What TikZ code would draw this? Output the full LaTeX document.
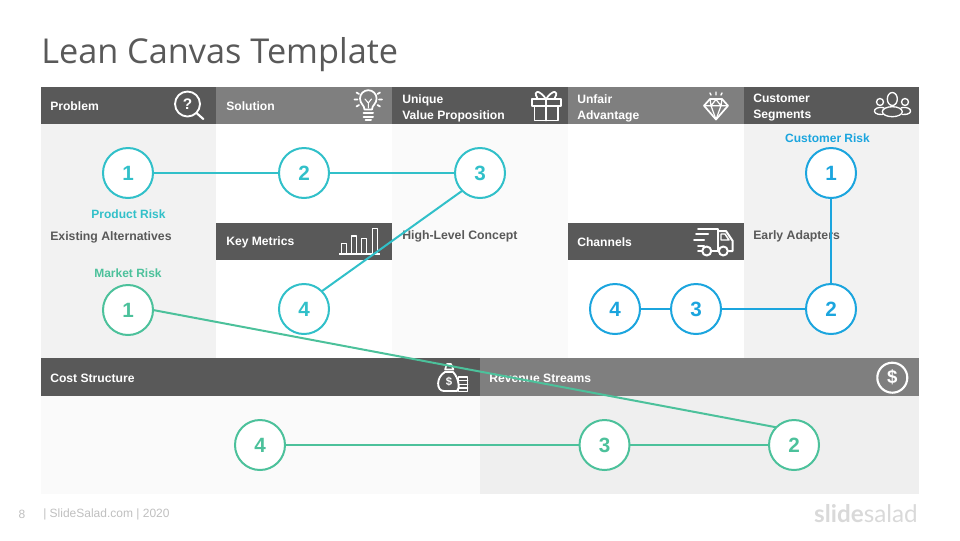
\documentclass[tikz,border=0pt]{standalone}
\usepackage{fontspec}
\setmainfont{Liberation Sans}
\newfontfamily\titlefont{Open Sans}
\newfontfamily\logofont{Lato}
\definecolor{darkhd}{HTML}{595959}
\definecolor{grayhd}{HTML}{7F7F7F}
\definecolor{panelA}{HTML}{F2F2F2}
\definecolor{panelB}{HTML}{FAFAFA}
\definecolor{panelC}{HTML}{EFEFEF}
\definecolor{teal}{HTML}{31C0C9}
\definecolor{bluec}{HTML}{1BA5DE}
\definecolor{greenc}{HTML}{4CC19B}
\definecolor{foot}{HTML}{BFBFBF}
\definecolor{logoc}{HTML}{D9D9D9}
\tikzset{
  panel/.style={fill=#1,draw=none},
  hd/.style={anchor=west,text=white,font=\fontsize{9.1}{12}\selectfont\bfseries,align=left,inner sep=0pt},
  bodytxt/.style={anchor=west,text=darkhd,font=\fontsize{9.2}{12}\selectfont\bfseries,inner sep=0pt},
  risk/.style={text=#1,font=\fontsize{9}{12}\selectfont\bfseries,inner sep=0pt},
  numc/.style={circle,draw=#1,fill=white,line width=1.5pt,minimum size=37.5pt,inner sep=0pt,outer sep=0pt,text=#1,font=\fontsize{15.5}{16}\selectfont\bfseries},
  conn/.style={draw=#1,line width=1.5pt},
  icon/.style={draw=white,line width=1.1pt,line cap=round,line join=round}
}
\begin{document}
\begin{tikzpicture}[x=0.75pt,y=-0.75pt]
\useasboundingbox (0,0) rectangle (960,540);
% panels
\fill[panel=panelA] (41,124) rectangle (216,358);
\fill[panel=panelB] (392,124) rectangle (568,358);
\fill[panel=panelA] (744,124) rectangle (919,358);
\fill[panel=panelB] (41,396) rectangle (480,494);
\fill[panel=panelC] (480,396) rectangle (919,494);
% header bars
\fill[darkhd] (41,87) rectangle (216,124);
\fill[grayhd] (216,87) rectangle (392,124);
\fill[darkhd] (392,87) rectangle (568,124);
\fill[grayhd] (568,87) rectangle (744,124);
\fill[darkhd] (744,87) rectangle (919,124);
\fill[darkhd] (216,223) rectangle (392,260);
\fill[darkhd] (568,223) rectangle (744,260);
\fill[darkhd] (41,358) rectangle (480,396);
\fill[grayhd] (480,358) rectangle (919,396);
% title and footer
\node[anchor=west,inner sep=0pt,text=darkhd,font=\titlefont\fontsize{25.7}{30}\selectfont] (title) at (41,55) {Lean Canvas Template};
\node[text=foot,inner sep=0pt,font=\fontsize{9}{10}\selectfont] (pagenum) at (22,514) {8};
\node[anchor=west,text=foot,inner sep=0pt,font=\fontsize{9}{10}\selectfont] (foottxt) at (43,514.5) {| SlideSalad.com | 2020};
\node[anchor=east,text=logoc,inner sep=0pt,font=\logofont\fontsize{18.2}{20}\selectfont] (logo) at (918,514) {\textbf{slide}salad};
% header texts
\node[hd] (hProblem) at (50,106.5) {Problem};
\node[hd] (hSolution) at (226,106.5) {Solution};
\node[hd] (hUnique) at (402,108) {Unique\\Value Proposition};
\node[hd] (hUnfair) at (577,108) {Unfair\\Advantage};
\node[hd] (hCustomer) at (753,108) {Customer\\Segments};
\node[hd] (hMetrics) at (226,242) {Key Metrics};
\node[hd] (hChannels) at (577,242) {Channels};
\node[hd] (hCost) at (50,378) {Cost Structure};
\node[hd] (hRevenue) at (489,378) {Revenue Streams};
% body texts
\node[bodytxt] (tExisting) at (50,237.5) {Existing Alternatives};
\node[bodytxt] (tHigh) at (402,236.5) {High-Level Concept};
\node[bodytxt] (tEarly) at (753,236.5) {Early Adapters};
\node[risk=teal] (rProduct) at (128.5,214) {Product Risk};
\node[risk=greenc] (rMarket) at (128,273) {Market Risk};
\node[risk=bluec] (rCustomer) at (827.5,138) {Customer Risk};
% icons
\draw[icon,line width=1.4pt] (187.5,104) circle (12.5);
\draw[icon,line width=1.6pt] (196.5,113) -- (203.3,119);
\node[text=white,inner sep=0pt,font=\fontsize{11.5}{12}\selectfont\bfseries] (iQ) at (187.5,104) {?};
% bulb
\draw[icon,line width=1.3pt] (364.5,109.5) .. controls (364.5,105) and (360,104) .. (360,98.5) arc[start angle=180,end angle=360,radius=8.3] .. controls (376.6,104) and (372,105) .. (372,109.5) -- cycle;
\draw[icon,line width=0.8pt] (365,99) -- (368.3,103) -- (371.5,99) (368.3,103) -- (368.3,108);
\draw[icon,line width=1.5pt] (363.5,113) -- (373,113) (363.5,116.5) -- (373,116.5) (365.5,120) -- (371,120);
\draw[icon,line width=1.3pt] (354.5,99.5) -- (357.5,99.5) (379,99.5) -- (382,99.5) (356.5,92.5) -- (359,94) (380,92.5) -- (377.5,94) (356.5,106.5) -- (359,105) (380,106.5) -- (377.5,105);
% gift
\draw[icon,line width=1.4pt] (532,99) rectangle (560.7,105.7);
\draw[icon,line width=1.4pt] (534.5,105.7) rectangle (558,120.5);
\draw[icon,line width=1.4pt] (546,99) -- (546,120.5);
\draw[icon,line width=1.3pt] (546,99) .. controls (540,90) and (532,89) .. (537.5,98.5);
\draw[icon,line width=1.3pt] (546,99) .. controls (552,90) and (560,89) .. (554.5,98.5);
% diamond
\draw[icon,line width=1.3pt] (710,99) -- (722,99) -- (728,105.7) -- (716,119.5) -- (704,105.7) -- cycle;
\draw[icon,line width=0.9pt] (704,105.7) -- (728,105.7) (710,99) -- (711,105.7) -- (716,119.5) -- (721,105.7) -- (722,99) (711,105.7) -- (716,99.5) -- (721,105.7);
\draw[icon] (716,92) -- (716,95) (710,93) -- (711,95) (722,93) -- (721,95);
% people
\draw[icon,line width=1pt] (892.3,99) ellipse (5 and 6.5);
\draw[icon,line width=1pt] (892.3,111.7) ellipse (10 and 5);
\draw[icon,line width=1pt] (880,102) circle (3.5);
\draw[icon,line width=1pt] (905,102) circle (3.5);
\draw[icon,line width=1pt] (882.5,114.5) .. controls (876,115) and (873,112) .. (875,109.5) .. controls (877,107) and (882,107) .. (884,108);
\draw[icon,line width=1pt] (902.5,114.5) .. controls (909,115) and (912,112) .. (910,109.5) .. controls (908,107) and (903,107) .. (901,108);
% bar chart
\draw[icon,line width=1.1pt,line cap=butt] (339,254) -- (380,254);
\draw[icon,line width=1.1pt,line cap=butt] (341.7,254) -- (341.7,243.7) -- (346.7,243.7) -- (346.7,254);
\draw[icon,line width=1.1pt,line cap=butt] (351.7,254) -- (351.7,236) -- (356.7,236) -- (356.7,254);
\draw[icon,line width=1.1pt,line cap=butt] (361.7,254) -- (361.7,238.7) -- (366.7,238.7) -- (366.7,254);
\draw[icon,line width=1.1pt,line cap=butt] (372.7,254) -- (372.7,228.7) -- (377.3,228.7) -- (377.3,254);
% truck
\draw[icon,line width=1.5pt] (698,228.5) -- (718,228.5) -- (718,251);
\draw[icon,line width=1.5pt] (718,231) -- (726,231) -- (732.7,241) -- (732.7,251) -- (728.5,251);
\draw[icon,line width=1.1pt] (721,234) -- (725,234) -- (729,240) -- (721,240) -- cycle;
\draw[icon,line width=1.5pt] (711.5,251) -- (718.5,251) (698,251) -- (702,251);
\draw[icon,line width=1.5pt] (706.7,251) circle (4.5);
\draw[icon,line width=1.5pt] (723.3,251) circle (4.5);
\draw[icon,line width=1.5pt] (696,234) -- (708,234) (694,240) -- (704,240) (698,246) -- (704,246);
% money bag
\draw[icon,line width=1.4pt] (445,372) .. controls (436,377) and (436,391) .. (444,391) -- (457,391) .. controls (460,389) and (459,378) .. (453,372) -- cycle;
\draw[icon,line width=1.2pt] (445,369.5) -- (453.5,369.5) -- (451,364) -- (447,364) -- cycle;
\node[text=white,inner sep=0pt,font=\fontsize{8.5}{8}\selectfont\bfseries] (iBag) at (449,382) {\$};
\draw[icon,line width=1.1pt] (458.5,377) rectangle (467.7,391.5);
\draw[icon,line width=0.9pt] (458.5,380.7) -- (467.7,380.7) (458.5,384.3) -- (467.7,384.3) (458.5,388) -- (467.7,388);
% dollar
\draw[icon,line width=1.6pt] (892.3,377.7) circle (15);
\node[text=white,inner sep=0pt,font=\fontsize{14}{15}\selectfont\bfseries] (iDollar) at (892.3,377.7) {\$};
% numbered circles
\node[numc=teal] (p1) at (128,173) {1};
\node[numc=teal] (p2) at (304,173) {2};
\node[numc=teal] (p3) at (480,173) {3};
\node[numc=teal] (p4) at (304,309) {4};
\node[numc=greenc] (m1) at (128,310) {1};
\node[numc=greenc] (m2) at (794,445) {2};
\node[numc=greenc] (m3) at (604.5,445) {3};
\node[numc=greenc] (m4) at (260,445) {4};
\node[numc=bluec] (c1) at (831,173) {1};
\node[numc=bluec] (c2) at (831,309) {2};
\node[numc=bluec] (c3) at (696,309) {3};
\node[numc=bluec] (c4) at (615,309) {4};
% connectors
\draw[conn=teal] (p1) -- (p2);
\draw[conn=teal] (p2) -- (p3);
\draw[conn=teal] (p3.south west) -- (p4.north east);
\draw[conn=greenc] (m1.east) -- (m2.north west);
\draw[conn=greenc] (m2) -- (m3);
\draw[conn=greenc] (m3) -- (m4);
\draw[conn=bluec] (c1) -- (c2);
\draw[conn=bluec] (c2) -- (c3);
\draw[conn=bluec] (c3) -- (c4);
\end{tikzpicture}
\end{document}
